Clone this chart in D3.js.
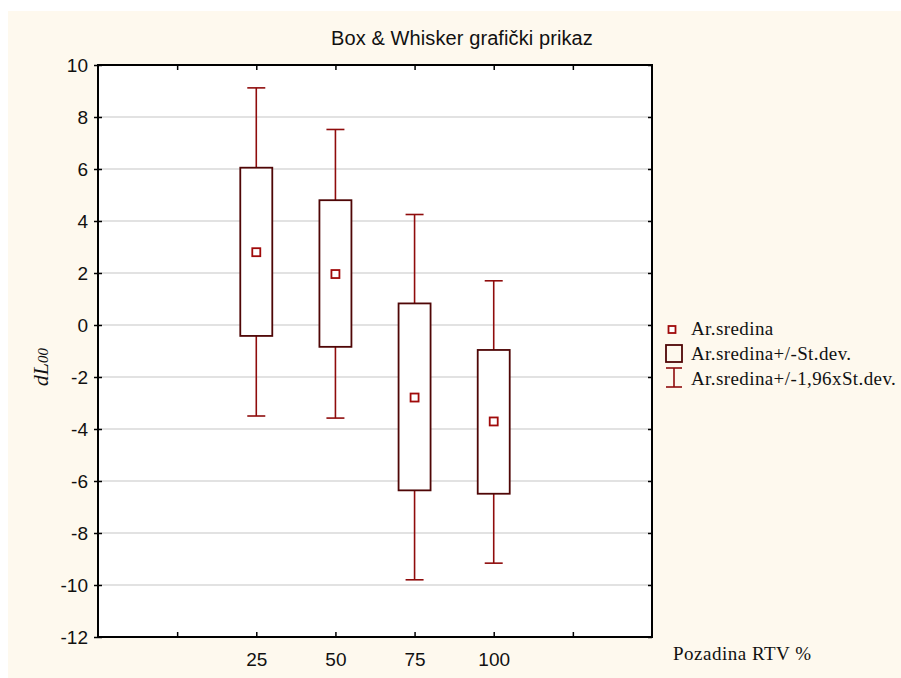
<!DOCTYPE html>
<html>
<head>
<meta charset="utf-8">
<script src="https://cdn.jsdelivr.net/npm/d3@7"></script>
<style>
html,body{margin:0;padding:0;background:#ffffff;}
svg{display:block;}
</style>
</head>
<body>
<script>
const categories = ["25", "50", "75", "100"];
const means = [2.80, 1.96, -2.79, -3.71];
const sdLow = [-0.42, -0.84, -6.36, -6.49];
const sdHigh = [6.05, 4.80, 0.83, -0.96];
const ciLow = [-3.50, -3.58, -9.80, -9.16];
const ciHigh = [9.12, 7.52, 4.25, 1.70];
const yTicks = [-12, -10, -8, -6, -4, -2, 0, 2, 4, 6, 8, 10];
const title = "Box & Whisker grafički prikaz";
const xTitle = "Pozadina RTV %";
const legendLabels = ["Ar.sredina", "Ar.sredina+/-St.dev.", "Ar.sredina+/-1,96xSt.dev."];

const W = 901, H = 678;
const L = 98, R = 652, T = 65, B = 637;
const boxColor = "#4f0606", whiskColor = "#8f0c0c", meanColor = "#a00a0a";
const sans = "Liberation Sans, Arial, sans-serif";
const serif = "Liberation Serif, Times New Roman, serif";

const svg = d3.select("body").append("svg").attr("width", W).attr("height", H);
svg.append("rect").attr("x", 8).attr("y", 11).attr("width", W - 8).attr("height", H - 11).attr("fill", "#fef9ee");
svg.append("rect").attr("x", L).attr("y", T).attr("width", R - L).attr("height", B - T).attr("fill", "#ffffff");

const y = d3.scaleLinear().domain([-12, 10]).range([B, T]);
// slots: categories occupy positions 2..5 out of 0..7
const x = d3.scaleLinear().domain([0, 7]).range([L, R]);
const pos = i => x(i + 2);
const slotTicks = [1, 2, 3, 4, 5, 6];

// gridlines
svg.append("g").selectAll("line").data(yTicks.filter(v => v > -12 && v < 10)).join("line")
  .attr("x1", L).attr("x2", R).attr("y1", d => y(d)).attr("y2", d => y(d))
  .attr("stroke", "#d9d9d9").attr("stroke-width", 1.6);

// left axis
const yAxis = d3.axisLeft(y).tickValues(yTicks).tickSize(4).tickPadding(6).tickFormat(d3.format("d"));
const gy = svg.append("g").attr("transform", `translate(${L},0)`).call(yAxis);
gy.select(".domain").remove();
gy.selectAll(".tick line").attr("x2", 4).attr("x1", -4).attr("stroke", "#000").attr("stroke-width", 1.5);
gy.selectAll(".tick text").attr("font-family", sans).attr("font-size", 19).attr("fill", "#111")
  .text(d => d < 0 ? "-" + Math.abs(d) : d).attr("x", -10).attr("dy", "0.36em");

// right axis ticks
const gr = svg.append("g").attr("transform", `translate(${R},0)`).call(d3.axisRight(y).tickValues(yTicks).tickSize(-4).tickFormat(""));
gr.select(".domain").remove();
gr.selectAll(".tick line").attr("stroke", "#000").attr("stroke-width", 1.5);

// bottom axis
const gb = svg.append("g").attr("transform", `translate(0,${B})`)
  .call(d3.axisBottom(x).tickValues(slotTicks).tickSize(-5).tickPadding(16)
    .tickFormat(d => (d >= 2 && d <= 5) ? categories[d - 2] : ""));
gb.select(".domain").remove();
gb.selectAll(".tick line").attr("stroke", "#000").attr("stroke-width", 1.5);
gb.selectAll(".tick text").attr("font-family", sans).attr("font-size", 19).attr("fill", "#111");

// top axis ticks
const gt = svg.append("g").attr("transform", `translate(0,${T})`)
  .call(d3.axisTop(x).tickValues(slotTicks).tickSize(-5).tickFormat(""));
gt.select(".domain").remove();
gt.selectAll(".tick line").attr("stroke", "#000").attr("stroke-width", 1.5);

// frame
svg.append("rect").attr("x", L).attr("y", T).attr("width", R - L).attr("height", B - T)
  .attr("fill", "none").attr("stroke", "#000").attr("stroke-width", 2);

// boxes
const boxW = 32, capW = 18;
const g = svg.append("g");
categories.forEach((c, i) => {
  const cx = pos(i);
  g.append("line").attr("x1", cx).attr("x2", cx).attr("y1", y(sdHigh[i])).attr("y2", y(ciHigh[i]))
    .attr("stroke", whiskColor).attr("stroke-width", 1.6);
  g.append("line").attr("x1", cx).attr("x2", cx).attr("y1", y(sdLow[i])).attr("y2", y(ciLow[i]))
    .attr("stroke", whiskColor).attr("stroke-width", 1.6);
  g.append("line").attr("x1", cx - capW / 2).attr("x2", cx + capW / 2).attr("y1", y(ciHigh[i])).attr("y2", y(ciHigh[i]))
    .attr("stroke", whiskColor).attr("stroke-width", 1.6);
  g.append("line").attr("x1", cx - capW / 2).attr("x2", cx + capW / 2).attr("y1", y(ciLow[i])).attr("y2", y(ciLow[i]))
    .attr("stroke", whiskColor).attr("stroke-width", 1.6);
  g.append("rect").attr("x", cx - boxW / 2).attr("y", y(sdHigh[i])).attr("width", boxW)
    .attr("height", y(sdLow[i]) - y(sdHigh[i])).attr("fill", "#fff").attr("stroke", boxColor).attr("stroke-width", 1.8);
  g.append("rect").attr("x", cx - 4).attr("y", y(means[i]) - 4).attr("width", 8).attr("height", 8)
    .attr("fill", "#fff").attr("stroke", meanColor).attr("stroke-width", 1.8);
});

// title
svg.append("text").attr("x", 462).attr("y", 45).attr("text-anchor", "middle")
  .attr("font-family", sans).attr("font-size", 20).attr("letter-spacing", 0.1).attr("fill", "#111").text(title);

// y title
const yt = svg.append("text").attr("transform", "translate(48,367) rotate(-90)").attr("text-anchor", "middle")
  .attr("font-family", serif).attr("font-style", "italic").attr("fill", "#111");
yt.append("tspan").attr("font-size", 22).text("dL");
yt.append("tspan").attr("font-size", 15).text("00");

// x title
svg.append("text").attr("x", 673).attr("y", 660)
  .attr("font-family", serif).attr("font-size", 19).attr("letter-spacing", 0.5)
  .attr("fill", "#111").text(xTitle);

// legend
const lg = svg.append("g");
lg.append("rect").attr("x", 668.5).attr("y", 326).attr("width", 7).attr("height", 7)
  .attr("fill", "#fff").attr("stroke", meanColor).attr("stroke-width", 1.8);
lg.append("rect").attr("x", 666).attr("y", 345).attr("width", 16).attr("height", 17)
  .attr("fill", "none").attr("stroke", boxColor).attr("stroke-width", 1.8);
lg.append("line").attr("x1", 674).attr("x2", 674).attr("y1", 368).attr("y2", 387).attr("stroke", whiskColor).attr("stroke-width", 1.6);
lg.append("line").attr("x1", 666).attr("x2", 682).attr("y1", 368).attr("y2", 368).attr("stroke", whiskColor).attr("stroke-width", 1.6);
lg.append("line").attr("x1", 666).attr("x2", 682).attr("y1", 387).attr("y2", 387).attr("stroke", whiskColor).attr("stroke-width", 1.6);
const legendY = [335, 360, 385];
lg.selectAll("text").data(legendLabels).join("text")
  .attr("x", 691).attr("y", (d, i) => legendY[i])
  .attr("font-family", serif).attr("font-size", 19).attr("letter-spacing", 0.4)
  .attr("fill", "#111").text(d => d);
</script>
</body>
</html>
